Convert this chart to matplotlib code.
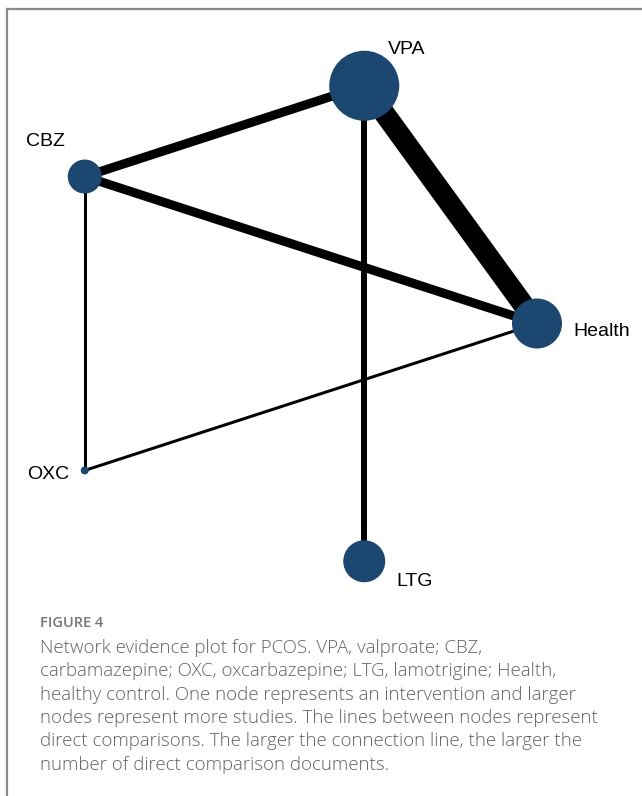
import numpy as np
import matplotlib
matplotlib.use("Agg")
import matplotlib.pyplot as plt
from matplotlib.lines import Line2D

# Treatments in the network (placed anticlockwise on a circle, starting at 3 o'clock)
treatments = ["Health", "VPA", "CBZ", "OXC", "LTG"]
# Node radius (px) reflecting the number of studies per treatment
node_radius = [25, 35, 17, 4, 21]

# Direct comparisons and number of comparison documents
edge_from = ["CBZ", "VPA", "CBZ", "VPA", "CBZ", "OXC"]
edge_to = ["VPA", "Health", "Health", "LTG", "OXC", "Health"]
edge_count = [3, 7, 3, 2, 1, 1]

# Label offsets from node centres (pixels)
label_offset = {"VPA": (42, 36), "CBZ": (-39, 35), "Health": (65, -8),
                "OXC": (-37, -4), "LTG": (50, -20)}

caption_title = "FIGURE 4"
caption_lines = [
    "Network evidence plot for PCOS. VPA, valproate; CBZ,",
    "carbamazepine; OXC, oxcarbazepine; LTG, lamotrigine; Health,",
    "healthy control. One node represents an intervention and larger",
    "nodes represent more studies. The lines between nodes represent",
    "direct comparisons. The larger the connection line, the larger the",
    "number of direct comparison documents.",
]

W, H, DPI = 642, 796, 100
PX_PER_UNIT = 250.0
CENTER_PX = (287.0, 323.5)
NODE_COLOR = "#1c4770"
PT = 72.0 / DPI  # points per pixel

fig = plt.figure(figsize=(W / DPI, H / DPI), dpi=DPI)
ax = fig.add_axes([0, 0, 1, 1])
ax.set_xlim(-CENTER_PX[0] / PX_PER_UNIT, (W - CENTER_PX[0]) / PX_PER_UNIT)
ax.set_ylim(-(H - CENTER_PX[1]) / PX_PER_UNIT, CENTER_PX[1] / PX_PER_UNIT)
ax.axis("off")

# Circular layout
n = len(treatments)
angles = np.deg2rad(np.arange(n) * 360.0 / n)
pos = {t: (np.cos(a), np.sin(a)) for t, a in zip(treatments, angles)}

# Edges, width proportional to number of comparisons
for a, b, c in zip(edge_from, edge_to, edge_count):
    (x0, y0), (x1, y1) = pos[a], pos[b]
    ax.plot([x0, x1], [y0, y1], color="black", lw=3.0 * c * PT,
            solid_capstyle="butt", zorder=1)

# Nodes
xs = [pos[t][0] for t in treatments]
ys = [pos[t][1] for t in treatments]
sizes = [(2 * r * PT) ** 2 for r in node_radius]
ax.scatter(xs, ys, s=sizes, color=NODE_COLOR, edgecolors="none", zorder=2)

for t in treatments:
    ax.annotate(t, pos[t], xytext=label_offset[t], textcoords="offset pixels",
                ha="center", va="center", fontsize=14,
                family="Liberation Sans", color="black", zorder=3)

# Frame lines (top and left)
frame_color = "#8a8a8a"
fig.add_artist(Line2D([7 / W, 1], [1 - 9 / H, 1 - 9 / H],
                      transform=fig.transFigure, color=frame_color, lw=1.6))
fig.add_artist(Line2D([7 / W, 7 / W], [0, 1 - 9 / H],
                      transform=fig.transFigure, color=frame_color, lw=1.6))

# Caption
cap_color = "#626262"
fig.text(40 / W, 1 - 627 / H, caption_title, fontsize=10.5, color="#767676",
         family="Open Sans", weight="semibold", va="baseline", ha="left")
for i, line in enumerate(caption_lines):
    fig.text(40 / W, 1 - (653 + i * 23.3) / H, line, fontsize=13.4,
             color=cap_color, family="Open Sans", weight="light",
             va="baseline", ha="left")

fig.savefig("out.png", dpi=DPI)
